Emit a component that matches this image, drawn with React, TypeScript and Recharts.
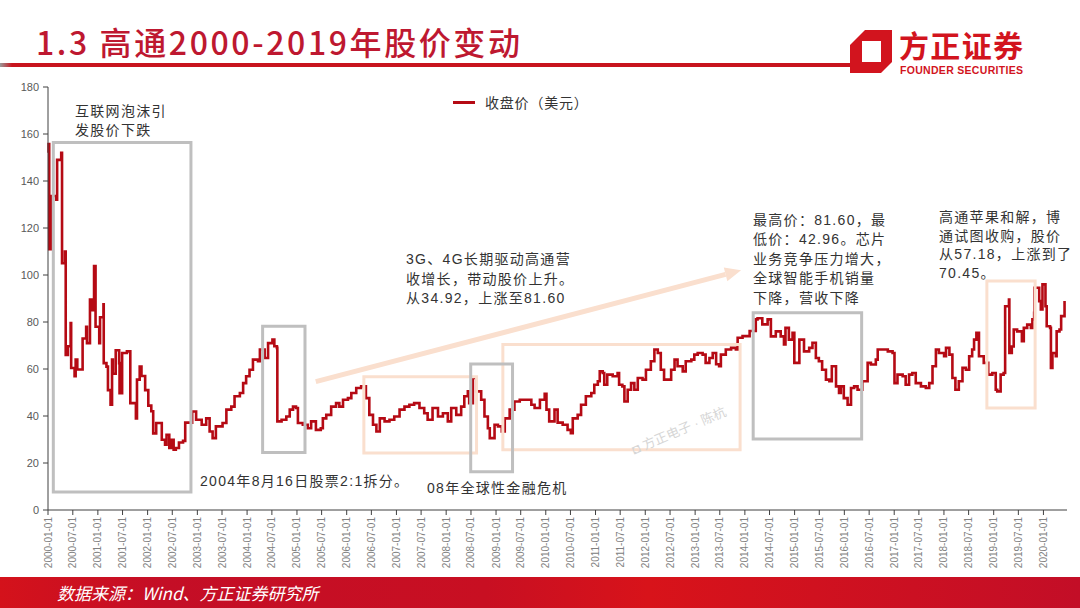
import {
  Legend,
  Line,
  LineChart,
  ReferenceArea,
  ReferenceLine,
  XAxis,
  YAxis,
} from "recharts";

// closing price (USD), one pair of arrays per period
const dates2000_2002 = [
  "2000-01-03", "2000-01-05", "2000-01-10", "2000-01-27", "2000-03-02", "2000-03-08",
  "2000-04-07", "2000-04-13", "2000-05-04", "2000-05-10", "2000-05-26", "2000-06-15",
  "2000-06-19", "2000-07-14", "2000-07-22", "2000-08-03", "2000-09-02", "2000-09-11",
  "2000-10-07", "2000-10-13", "2000-11-04", "2000-11-15", "2000-12-04", "2000-12-15",
  "2001-01-11", "2001-01-17", "2001-02-11", "2001-02-13", "2001-03-05", "2001-03-16",
  "2001-04-04", "2001-04-15", "2001-04-21", "2001-05-12", "2001-06-06", "2001-06-09",
  "2001-06-28", "2001-08-02", "2001-08-27", "2001-09-16", "2001-10-07", "2001-10-15",
  "2001-11-04", "2001-11-17", "2001-12-03", "2001-12-14", "2002-01-06", "2002-01-28",
  "2002-02-11", "2002-03-05", "2002-03-21", "2002-04-15", "2002-05-09", "2002-05-20",
  "2002-06-09", "2002-06-22", "2002-07-11", "2002-07-27", "2002-08-19", "2002-09-18",
  "2002-10-04", "2002-10-23", "2002-11-24", "2002-12-23",
];
const close2000_2002 = [
  152, 155.7, 111, 133.6, 132, 149,
  152, 105, 110, 66, 69.7, 79.6,
  60.4, 56.9, 64, 59.8, 59.8, 73,
  78, 71, 89.6, 85, 103.8, 78,
  71, 82, 87.5, 62.5, 61, 51,
  44.8, 64, 58, 68, 62.5, 49.7,
  66.8, 67.5, 45.5, 45.5, 39, 55.5,
  61, 57, 57, 51, 44.4, 42,
  32.6, 37, 37, 29.9, 27.8, 32,
  26.4, 29.9, 25.7, 26.4, 28.7, 29.4,
  37.2, 37.2, 41.9, 38.4,
];

const dates2003_2006 = [
  "2003-02-02", "2003-03-07", "2003-04-01", "2003-04-23", "2003-05-17", "2003-07-05",
  "2003-08-02", "2003-09-07", "2003-10-01", "2003-11-09", "2003-12-03", "2003-12-25",
  "2004-01-19", "2004-02-13", "2004-03-21", "2004-04-04", "2004-05-09", "2004-06-03",
  "2004-07-05", "2004-07-19", "2004-08-07", "2004-08-10", "2004-09-10", "2004-10-15",
  "2004-11-09", "2004-12-03", "2004-12-25", "2005-01-08", "2005-02-13", "2005-03-21",
  "2005-04-15", "2005-05-20", "2005-06-25", "2005-07-10", "2005-08-04", "2005-09-09",
  "2005-10-15", "2005-11-08", "2005-12-05", "2006-01-10", "2006-02-04", "2006-03-12",
  "2006-04-17", "2006-05-22", "2006-06-16", "2006-07-13", "2006-08-07", "2006-09-01",
  "2006-10-06", "2006-11-11", "2006-12-16",
];
const close2003_2006 = [
  36.3, 39, 33.4, 30.6, 35.6, 37,
  42.7, 44, 48.4, 49.8, 54, 56.9,
  59.7, 64, 63.3, 68.3, 64.7, 71,
  72.5, 69.7, 69, 37.7, 38.4, 39.8,
  42.7, 44, 43.4, 37, 36.3, 34.8,
  37.7, 34.1, 34.8, 39, 40.5, 44,
  45.5, 44, 46.9, 47.6, 49.8, 51.9,
  52.6, 47.6, 40.5, 36.3, 33.4, 39,
  37.7, 38.4, 39.8,
];

const dates2007_2010 = [
  "2007-01-24", "2007-03-01", "2007-04-06", "2007-05-11", "2007-06-19", "2007-07-24",
  "2007-08-18", "2007-09-23", "2007-11-02", "2007-12-08", "2008-01-13", "2008-02-07",
  "2008-03-15", "2008-04-20", "2008-05-13", "2008-06-08", "2008-06-18", "2008-07-15",
  "2008-08-09", "2008-09-14", "2008-10-08", "2008-11-02", "2008-11-16", "2008-12-21",
  "2009-01-15", "2009-02-12", "2009-03-06", "2009-04-11", "2009-05-16", "2009-06-24",
  "2009-08-12", "2009-09-17", "2009-10-11", "2009-11-19", "2009-12-24", "2010-01-06",
  "2010-01-26", "2010-03-06", "2010-03-29", "2010-05-05", "2010-06-10", "2010-07-04",
  "2010-07-18", "2010-08-23", "2010-09-17", "2010-10-22", "2010-12-01", "2010-12-23",
];
const close2007_2010 = [
  42.7, 44, 44.8, 45.5, 43.4, 41.2,
  38.4, 43.4, 39.8, 41.2, 37.7, 43.4,
  40.5, 44, 48.4, 50.5, 45.5, 56.2,
  50.5, 46.9, 39.8, 34.8, 30.6, 36.3,
  35.6, 33.4, 39, 42.7, 46.2, 46.9,
  46.9, 44.8, 43.4, 46.9, 49.5, 42.7,
  37.7, 42.7, 37.2, 36.3, 34.1, 32.7,
  39, 40.5, 44.8, 48.4, 49.8, 53.3,
];

const dates2011_2014 = [
  "2011-01-18", "2011-02-01", "2011-02-23", "2011-03-06", "2011-03-28", "2011-05-07",
  "2011-06-12", "2011-06-23", "2011-07-17", "2011-08-01", "2011-08-25", "2011-09-19",
  "2011-10-13", "2011-11-07", "2011-12-12", "2012-01-06", "2012-02-11", "2012-03-08",
  "2012-04-02", "2012-04-24", "2012-05-18", "2012-06-12", "2012-07-09", "2012-08-03",
  "2012-08-25", "2012-10-02", "2012-10-24", "2012-12-04", "2012-12-26", "2013-01-20",
  "2013-02-25", "2013-03-19", "2013-04-16", "2013-05-10", "2013-06-04", "2013-06-26",
  "2013-07-09", "2013-08-14", "2013-09-22", "2013-10-27", "2013-11-09", "2013-12-15",
  "2014-02-05", "2014-03-22", "2014-04-04", "2014-05-09", "2014-06-17", "2014-07-11",
  "2014-08-16", "2014-09-21", "2014-10-15", "2014-10-26", "2014-11-20", "2014-12-17",
  "2014-12-30",
];
const close2011_2014 = [
  54.8, 59, 58.3, 53.3, 57.6, 56.9,
  58.3, 53.3, 52.6, 46.2, 51.2, 54,
  51.2, 56.2, 55.5, 59.7, 63.3, 68.3,
  66.8, 59.7, 55.5, 55.5, 59.7, 64,
  61.2, 59, 63.3, 64, 66.1, 66.8,
  66.1, 62.6, 64.7, 66.8, 62, 61.2,
  66.1, 68.3, 69, 68.3, 73.3, 74,
  76.2, 81.1, 81.6, 79, 81.1, 73.9,
  76, 73.9, 70.4, 77.5, 72.5, 75.4,
  62.6,
];

const dates2015_2017 = [
  "2015-02-05", "2015-03-11", "2015-04-18", "2015-05-12", "2015-06-06", "2015-06-28",
  "2015-07-22", "2015-08-19", "2015-09-13", "2015-10-01", "2015-11-01", "2015-11-23",
  "2015-12-06", "2015-12-28", "2016-01-25", "2016-02-19", "2016-03-13", "2016-04-07",
  "2016-05-12", "2016-06-20", "2016-07-14", "2016-08-19", "2016-09-02", "2016-10-09",
  "2016-11-15", "2016-12-20", "2017-01-03", "2017-01-25", "2017-03-04", "2017-03-26",
  "2017-04-20", "2017-05-14", "2017-06-08", "2017-07-16", "2017-08-21", "2017-09-15",
  "2017-10-09", "2017-11-03", "2017-11-25",
];
const close2015_2017 = [
  72.5, 67.5, 69, 71.2, 64.7, 63.3,
  59.7, 55.5, 54.8, 61.2, 52.6, 49.8,
  52.6, 47.6, 44.8, 51.9, 52.6, 51.2,
  54.8, 62.6, 61.9, 64, 68.3, 68.3,
  67.5, 66.8, 54, 57.6, 56.9, 53.3,
  57.6, 58.3, 54, 52.6, 51.9, 54,
  61.2, 68.3, 66.8,
];

const dates2018_2020 = [
  "2018-01-02", "2018-01-16", "2018-02-10", "2018-03-04", "2018-03-26", "2018-04-20",
  "2018-05-17", "2018-06-11", "2018-07-05", "2018-07-27", "2018-08-10", "2018-08-27",
  "2018-09-15", "2018-10-20", "2018-11-22", "2018-12-22", "2019-01-16", "2019-01-27",
  "2019-02-21", "2019-03-15", "2019-03-26", "2019-04-23", "2019-04-26", "2019-05-14",
  "2019-05-28", "2019-06-22", "2019-07-27", "2019-08-10", "2019-09-04", "2019-10-01",
  "2019-10-12", "2019-10-25", "2019-10-27", "2019-12-01", "2019-12-13", "2019-12-25",
  "2020-01-16", "2020-01-25", "2020-02-19", "2020-02-25", "2020-03-07", "2020-04-01",
  "2020-04-07", "2020-04-28", "2020-05-10", "2020-06-04",
];
const close2018_2020 = [
  65.4, 69, 66.1, 56.2, 51.2, 54.8,
  60.5, 59.7, 65.4, 68.3, 72.5, 75.4,
  65.4, 62.6, 57.6, 58.3, 51.2, 50.5,
  57.6, 58.3, 86.7, 89.6, 66.8, 69.6,
  76.8, 76, 71.8, 77.5, 78.9, 77.5,
  81.1, 83.9, 94.6, 88.9, 85.3, 96,
  86.7, 78.2, 77.5, 60.4, 66.8, 65.4,
  76, 76.8, 82.5, 88.9,
];

const periods: [string[], number[]][] = [
  [dates2000_2002, close2000_2002],
  [dates2003_2006, close2003_2006],
  [dates2007_2010, close2007_2010],
  [dates2011_2014, close2011_2014],
  [dates2015_2017, close2015_2017],
  [dates2018_2020, close2018_2020],
];

const data = periods.flatMap(([d, c]) =>
  d.map((s, i) => ({ t: Date.parse(s), close: c[i] }))
);

const X_START = Date.parse("2000-01-01");
const X_END = Date.parse("2020-06-22");

const tickDates: string[] = [];
for (let y = 2000; y <= 2020; y++) {
  tickDates.push(`${y}-01-01`);
  if (y < 2020) tickDates.push(`${y}-07-01`);
}
const tickTimes = tickDates.map((s) => Date.parse(s));
const yTicks = [0, 20, 40, 60, 80, 100, 120, 140, 160, 180];

// annotation boxes, in data coordinates
const boxes = [
  { x1: "2000-02-09", x2: "2002-11-15", y1: 7.7, y2: 156.4, pale: false },
  { x1: "2004-04-24", x2: "2005-03-01", y1: 24.5, y2: 78.2, pale: false },
  { x1: "2006-05-07", x2: "2008-08-11", y1: 24.3, y2: 56.7, pale: true },
  { x1: "2009-02-20", x2: "2013-11-27", y1: 25.6, y2: 70.4, pale: true },
  { x1: "2008-06-29", x2: "2009-05-02", y1: 16.3, y2: 62.1, pale: false },
  { x1: "2014-03-03", x2: "2016-05-07", y1: 30.2, y2: 83.9, pale: false },
  { x1: "2018-11-12", x2: "2019-11-01", y1: 43.4, y2: 97.4, pale: true },
];
const arrowFrom = { x: "2005-05-19", y: 54.6 };
const arrowTo = { x: "2013-12-04", y: 102 };

const RED = "#B50A14";
const GRAY_BOX = "#BFBFBF";
const PEACH = "#FADFCE";
const TXT = "'Liberation Sans', 'Noto Sans CJK SC', sans-serif";

const fmtDate = (t: number) => {
  const d = new Date(t);
  const m = d.getUTCMonth() + 1;
  return `${d.getUTCFullYear()}-${m < 10 ? "0" + m : m}-01`;
};

const DateTick = ({ x, y, payload }: any) => (
  <g transform={`translate(${x},${y})`}>
    <text
      transform="rotate(-90)"
      textAnchor="end"
      dy="0.35em"
      fontSize={10}
      fill="#808080"
      fontFamily="'Liberation Sans', sans-serif"
    >
      {fmtDate(payload.value)}
    </text>
  </g>
);

const Arrow = (props: any) => {
  const { x1, y1, x2, y2 } = props;
  const ang = Math.atan2(y2 - y1, x2 - x1);
  const len = 16;
  const half = 7;
  const bx = x2 - len * Math.cos(ang);
  const by = y2 - len * Math.sin(ang);
  const px = -Math.sin(ang) * half;
  const py = Math.cos(ang) * half;
  return (
    <g>
      <line x1={x1} y1={y1} x2={bx} y2={by} stroke={PEACH} strokeWidth={5} />
      <polygon
        points={`${x2},${y2} ${bx + px},${by + py} ${bx - px},${by - py}`}
        fill={PEACH}
      />
    </g>
  );
};

const LegendContent = () => (
  <div style={{ display: "flex", alignItems: "center", fontFamily: TXT }}>
    <span style={{ width: 22, height: 3, background: RED, marginRight: 10 }} />
    <span style={{ fontSize: 14, color: "#333", letterSpacing: 0.8, whiteSpace: "nowrap" }}>
      收盘价（美元）
    </span>
  </div>
);

const note = (left: number, top: number, lh: number): React.CSSProperties => ({
  position: "absolute",
  left,
  top,
  fontSize: 14,
  lineHeight: `${lh}px`,
  letterSpacing: 1.3,
  color: "#333",
  fontFamily: TXT,
  whiteSpace: "pre",
});

export default function App() {
  return (
    <div
      style={{
        position: "absolute",
        left: 0,
        top: 0,
        width: 1080,
        height: 608,
        overflow: "hidden",
        background: "#fff",
      }}
    >
      {/* header */}
      <div
        style={{
          position: "absolute",
          left: 36,
          top: 21,
          fontSize: 32,
          lineHeight: "40px",
          letterSpacing: 2.6,
          fontWeight: 500,
          color: "#BE1830",
          fontFamily: "'Noto Sans CJK SC', sans-serif",
          whiteSpace: "nowrap",
        }}
      >
        1.3 高通2000-2019年股价变动
      </div>
      <div
        style={{
          position: "absolute",
          left: 0,
          top: 63,
          width: 852,
          height: 4,
          background: "linear-gradient(90deg, #9a9a9a 0px, #C8141E 12px)",
        }}
      />
      <svg
        style={{ position: "absolute", left: 0, top: 0 }}
        width={1080}
        height={90}
      >
        <polygon
          points="865,30 892,30 892,62 881,73 850,73 850,45"
          fill="#D2141E"
        />
        <rect x={862} y={41} width={19} height={21} fill="#fff" />
        <text
          x={899}
          y={57}
          fontSize={30}
          fontWeight={700}
          fill="#D2141E"
          fontFamily="'Noto Sans CJK SC', sans-serif"
          textLength={124}
        >
          方正证券
        </text>
        <text
          x={900}
          y={74}
          fontSize={10.5}
          fontWeight={700}
          fill="#D2141E"
          fontFamily="'Liberation Sans', sans-serif"
          textLength={123}
        >
          FOUNDER SECURITIES
        </text>
      </svg>

      <LineChart
        width={1080}
        height={608}
        data={data}
        margin={{ top: 87, right: 13, bottom: 38, left: 8 }}
        style={{ position: "absolute", left: 0, top: 0 }}
      >
        <XAxis
          type="number"
          dataKey="t"
          domain={[X_START, X_END]}
          ticks={tickTimes}
          interval={0}
          tick={<DateTick />}
          tickSize={5}
          tickMargin={2}
          height={60}
          axisLine={{ stroke: "#404040" }}
          tickLine={{ stroke: "#404040" }}
        />
        <YAxis
          domain={[0, 180]}
          ticks={yTicks}
          interval={0}
          width={40}
          tickSize={5}
          tickMargin={4}
          axisLine={{ stroke: "#404040" }}
          tickLine={{ stroke: "#404040" }}
          tick={{ fontSize: 11, fill: "#595959", fontFamily: "'Liberation Sans', sans-serif" }}
        />
        <Legend
          layout="horizontal"
          verticalAlign="middle"
          align="center"
          wrapperStyle={{ left: 453, top: 92, width: 160 }}
          content={<LegendContent />}
        />
        <Line
          type="stepAfter"
          dataKey="close"
          name="收盘价（美元）"
          stroke={RED}
          strokeWidth={2.6}
          dot={false}
          isAnimationActive={false}
        />
        <ReferenceLine
          segment={[
            { x: Date.parse(arrowFrom.x), y: arrowFrom.y },
            { x: Date.parse(arrowTo.x), y: arrowTo.y },
          ]}
          shape={Arrow}
          ifOverflow="visible"
          {...({ zIndex: 450 } as any)}
        />
        {boxes.map((b, i) => (
          <ReferenceArea
            key={i}
            x1={Date.parse(b.x1)}
            x2={Date.parse(b.x2)}
            y1={b.y1}
            y2={b.y2}
            fill="none"
            fillOpacity={0}
            stroke={b.pale ? PEACH : GRAY_BOX}
            strokeWidth={3}
            ifOverflow="visible"
            {...({ zIndex: 450 } as any)}
          />
        ))}
      </LineChart>

      {/* annotations */}
      <div style={note(75, 102, 19)}>{"互联网泡沫引\n发股价下跌"}</div>
      <div style={note(406, 250, 19.5)}>
        {"3G、4G长期驱动高通营\n收增长，带动股价上升。\n从34.92，上涨至81.60"}
      </div>
      <div style={note(200, 471, 20)}>2004年8月16日股票2:1拆分。</div>
      <div style={note(427, 478, 20)}>08年全球性金融危机</div>
      <div style={note(753, 211, 19.4)}>
        {"最高价：81.60，最\n低价：42.96。芯片\n业务竞争压力增大，\n全球智能手机销量\n下降，营收下降"}
      </div>
      <div style={note(939, 208, 18.7)}>
        {"高通苹果和解，博\n通试图收购，股价\n从57.18，上涨到了\n70.45。"}
      </div>

      {/* watermark */}
      <div
        style={{
          position: "absolute",
          left: 632,
          top: 440,
          fontSize: 13,
          color: "#D6D6D6",
          fontFamily: TXT,
          transform: "rotate(-23deg)",
          transformOrigin: "left center",
          whiteSpace: "nowrap",
        }}
      >
        ◘ 方正电子 · 陈杭
      </div>

      {/* footer */}
      <div
        style={{
          position: "absolute",
          left: 0,
          top: 577,
          width: 1080,
          height: 31,
          background:
            "linear-gradient(90deg, #D4121B 0%, #C40E26 15%, #C80F22 45%, #D8131A 60%, #C30E27 100%)",
        }}
      />
      <div
        style={{
          position: "absolute",
          left: 57,
          top: 581,
          fontSize: 17,
          lineHeight: "24px",
          fontStyle: "italic",
          color: "#fff",
          fontFamily: "'Noto Sans CJK SC', sans-serif",
          whiteSpace: "nowrap",
        }}
      >
        数据来源：Wind、方正证券研究所
      </div>
    </div>
  );
}
